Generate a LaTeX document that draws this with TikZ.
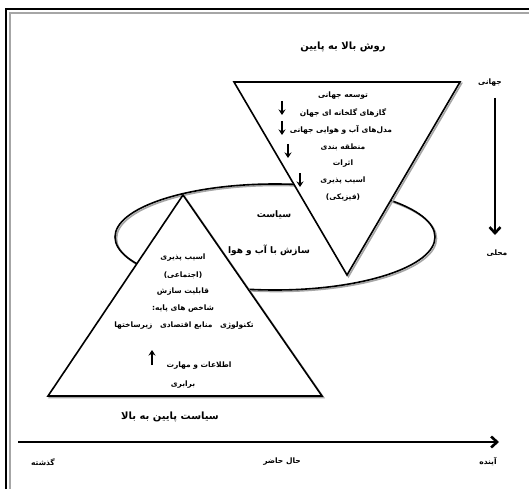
\documentclass[tikz,border=0pt]{standalone}
\usepackage{fontspec}
\usepackage{tikz}
\usetikzlibrary{arrows.meta}
\newfontfamily\arabicfont[Script=Arabic]{DejaVu Sans}
\TeXXeTstate=1
\newcommand{\fa}[1]{\beginR #1\endR}
\tikzstyle{farsi} = [font=\arabicfont\bfseries\fontsize{7.5}{9}\selectfont,
  align=center, inner sep=1pt]
\tikzstyle{bigfarsi} = [farsi, font=\arabicfont\bfseries\fontsize{9}{11}\selectfont]
\tikzstyle{headfarsi} = [farsi, font=\arabicfont\bfseries\fontsize{10}{12}\selectfont]
\tikzstyle{outline} = [draw, line width=1.6pt, fill=white]
\tikzstyle{shade} = [draw=black!35, line width=1.6pt, shift={(1.5,1.5)}]
\tikzstyle{smallarrow} = [line width=1.9pt, -{Stealth[length=5.5pt,width=7pt]}]
\tikzstyle{bigarrow} = [line width=2.6pt, -{Straight Barb[length=6pt,width=11pt]}]

\begin{document}
\begin{tikzpicture}[x=1pt, y=-1pt]
  \useasboundingbox (0,0) rectangle (529,489);
  % frame
  \draw[line width=1.5pt] (6,489) -- (6,9) -- (529,9);
  \draw[gray!70, line width=1.2pt] (10,489) -- (10,13) -- (529,13);

  \node[headfarsi] (top) at (343,47) {\fa{روش بالا به پایین}};

  % adaptation ellipse, then the two triangles over it
  \draw[shade] (275,237) ellipse [x radius=160pt, y radius=53pt];
  \draw[line width=1.6pt] (275,237) ellipse [x radius=160pt, y radius=53pt];
  \draw[shade] (183,195) -- (48,396) -- (322,396) -- cycle;
  \filldraw[outline] (183,195) -- (48,396) -- (322,396) -- cycle;
  \draw[shade] (234,82) -- (460,82) -- (347,275) -- cycle;
  \filldraw[outline] (234,82) -- (460,82) -- (347,275) -- cycle;

  \node[farsi] (g1) at (343,96)  {\fa{توسعه جهانی}};
  \node[farsi] (g2) at (343,113) {\fa{گازهای گلخانه ای جهان}};
  \node[farsi] (g3) at (341,130) {\fa{مدل‌های آب و هوایی جهانی}};
  \node[farsi] (g4) at (343,147) {\fa{منطقه بندی}};
  \node[farsi] (g5) at (343,164) {\fa{اثرات}};
  \node[farsi] (g6) at (343,181) {\fa{اسیب پذیری}};
  \node[farsi] (g7) at (343,198) {\fa{(فیزیکی)}};

  \coordinate (d1a) at (282,101); \coordinate (d1b) at (282,115);
  \coordinate (d2a) at (282,121); \coordinate (d2b) at (282,135);
  \coordinate (d3a) at (288,144); \coordinate (d3b) at (288,158);
  \coordinate (d4a) at (300,173); \coordinate (d4b) at (300,187);
  \draw[smallarrow] (d1a) -- (d1b);
  \draw[smallarrow] (d2a) -- (d2b);
  \draw[smallarrow] (d3a) -- (d3b);
  \draw[smallarrow] (d4a) -- (d4b);

  \node[bigfarsi] (pol) at (274,215) {\fa{سیاست}};
  \node[bigfarsi] (adp) at (269,250) {\fa{سازش با آب و هوا}};

  \node[farsi] (s1) at (183,258) {\fa{اسیب پذیری}};
  \node[farsi] (s2) at (183,275) {\fa{(اجتماعی)}};
  \node[farsi] (s3) at (183,292) {\fa{قابلیت سازش}};
  \node[farsi] (s4) at (183,309) {\fa{شاخص های پایه:}};
  \node[farsi] (s5) at (184,326) {\fa{تکنولوژی\quad منابع اقتصادی\quad زیرساختها}};
  \node[farsi] (s6) at (199,366) {\fa{اطلاعات و مهارت}};
  \node[farsi] (s7) at (183,385) {\fa{برابری}};
  \coordinate (u1a) at (152,365); \coordinate (u1b) at (152,350);
  \draw[smallarrow] (u1a) -- (u1b);

  \node[headfarsi] (bot) at (170,417) {\fa{سیاست پایین به بالا}};

  % scale axis
  \node[farsi] (glob) at (490,83)  {\fa{جهانی}};
  \node[farsi] (loc)  at (497,253) {\fa{محلی}};
  \coordinate (ga) at (495,98);
  \coordinate (lb) at (495,235);
  \draw[bigarrow] (ga) -- (lb);

  % time axis
  \coordinate (t0) at (18,442);
  \coordinate (t1) at (499,442);
  \draw[bigarrow] (t0) -- (t1);
  \node[farsi] (past) at (43,462)  {\fa{گذشته}};
  \node[farsi] (now)  at (282,462) {\fa{حال حاضر}};
  \node[farsi] (fut)  at (488,462) {\fa{آینده}};
\end{tikzpicture}
\end{document}
